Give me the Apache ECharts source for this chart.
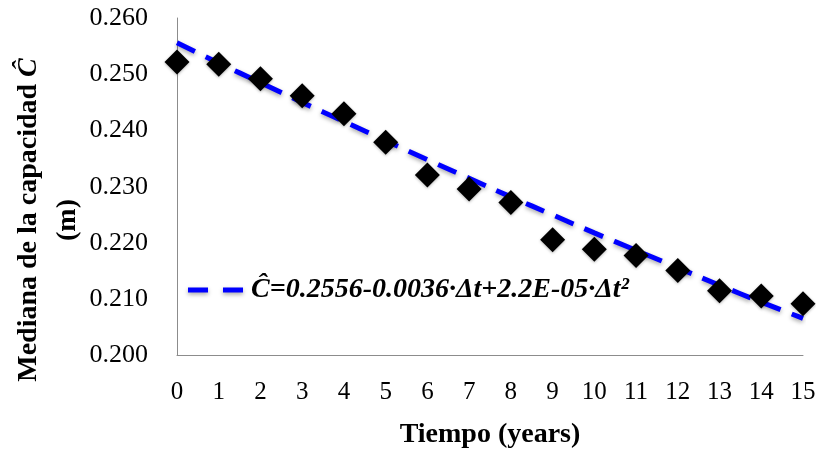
<!DOCTYPE html>
<html>
<head>
<meta charset="utf-8">
<script src="https://cdn.jsdelivr.net/npm/echarts@6/dist/echarts.min.js"></script>
<style>
html,body{margin:0;padding:0;background:#fff;}
#chart{width:816px;height:452px;}
</style>
</head>
<body>
<div id="chart"></div>
<script>
// Data
var years = [0,1,2,3,4,5,6,7,8,9,10,11,12,13,14,15];
var medianValues = [0.2522,0.2518,0.2492,0.2462,0.2430,0.2379,0.2321,0.2296,0.2272,0.2206,0.2189,0.2178,0.2151,0.2115,0.2106,0.2092];
var trendValues = [0.2556,0.2520,0.2485,0.2450,0.2416,0.2382,0.2348,0.2315,0.2282,0.2250,0.2218,0.2187,0.2156,0.2125,0.2095,0.2066];
var trendName = 'Ĉ=0.2556-0.0036·Δt+2.2E-05·Δt²';
var xTitle = 'Tiempo (years)';
var yTitleLine1 = 'Mediana de la capacidad ';
var yTitleLine2 = '(m)';

var font = '"Liberation Serif","Times New Roman",serif';
var chart = echarts.init(document.getElementById('chart'));
chart.setOption({
  animation: false,
  backgroundColor: '#fff',
  grid: {left: 177, right: 13, top: 18, bottom: 96.5, containLabel: false, outerBoundsMode: 'none'},
  legend: {
    data: [{name: trendName, icon: 'path://M0,0h20v5h-20z M35,0h20v5h-20z'}],
    left: 183, top: 271,
    itemWidth: 55, itemHeight: 5, itemGap: 8,
    itemStyle: {color: '#0000ff', shadowColor: 'rgba(0,0,0,0.35)', shadowBlur: 4, shadowOffsetY: 2},
    textStyle: {fontFamily: font, fontSize: 28, fontWeight: 'bold', fontStyle: 'italic', color: '#000', padding: [0,0,0,3]}
  },
  graphic: [{
    type: 'text',
    x: 48, y: 220,
    rotation: Math.PI / 2,
    style: {
      text: yTitleLine1 + '{i|Ĉ}\n' + yTitleLine2,
      fontFamily: font, fontSize: 28, fontWeight: 'bold', fill: '#000',
      lineHeight: 39, align: 'center', verticalAlign: 'middle',
      rich: {i: {fontFamily: font, fontSize: 28, fontWeight: 'bold', fontStyle: 'italic', fill: '#000'}}
    }
  }],
  xAxis: {
    type: 'value', min: 0, max: 15, interval: 1,
    name: xTitle, nameLocation: 'middle', nameGap: 65,
    nameTextStyle: {fontFamily: font, fontSize: 28, fontWeight: 'bold', color: '#000'},
    axisLine: {show: true, lineStyle: {color: '#8c8c8c', width: 1}},
    axisTick: {show: false},
    splitLine: {show: false},
    axisLabel: {fontFamily: font, fontSize: 25, color: '#000', margin: 24}
  },
  yAxis: {
    type: 'value', min: 0.20, max: 0.26, interval: 0.01,
    axisLine: {show: true, lineStyle: {color: '#8c8c8c', width: 1}},
    axisTick: {show: false},
    splitLine: {show: false},
    axisLabel: {fontFamily: font, fontSize: 26, color: '#000', margin: 29,
      formatter: function(v){ return v.toFixed(3); }}
  },
  series: [
    {
      name: trendName, type: 'line', symbol: 'none', smooth: true, z: 3,
      data: years.map(function(t,i){ return [t, trendValues[i]]; }),
      lineStyle: {color: '#0000ff', width: 5, type: [20, 12],
        shadowColor: 'rgba(0,0,0,0.35)', shadowBlur: 4, shadowOffsetY: 2},
      itemStyle: {color: '#0000ff'}
    },
    {
      name: 'Mediana', type: 'scatter', symbol: 'diamond', symbolSize: 25, z: 4,
      data: years.map(function(t,i){ return [t, medianValues[i]]; }),
      itemStyle: {color: '#000', opacity: 1, shadowColor: 'rgba(0,0,0,0.3)', shadowBlur: 3, shadowOffsetY: 1}
    }
  ]
});
</script>
</body>
</html>
